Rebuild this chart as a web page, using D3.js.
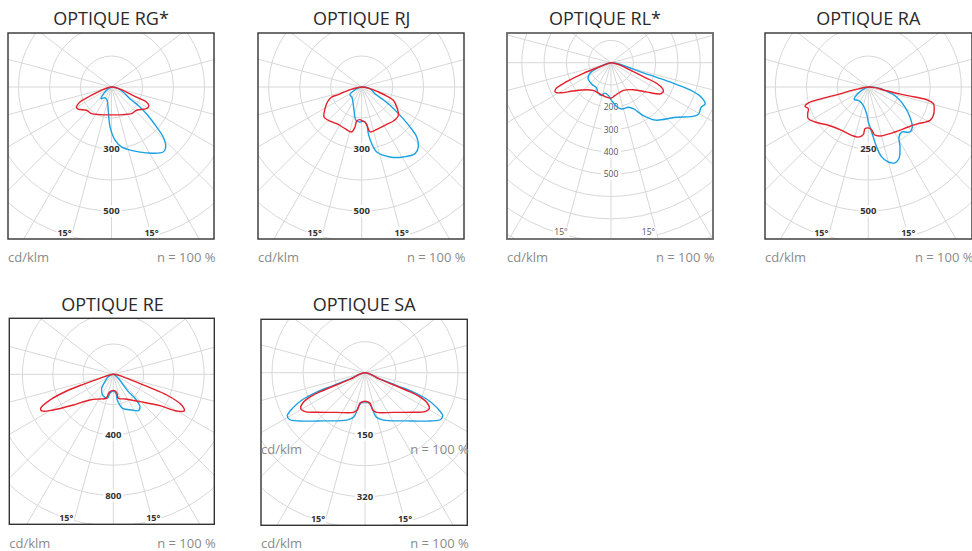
<!DOCTYPE html>
<html><head><meta charset="utf-8">
<script src="https://cdn.jsdelivr.net/npm/d3@7"></script>
<style>body{margin:0;background:#fff} svg{display:block} text{font-family:"Open Sans",sans-serif}</style>
</head><body><svg id="c" width="972" height="551"></svg>
<script>
// ---------- DATA ----------
const titles = ["OPTIQUE RG*", "OPTIQUE RJ", "OPTIQUE RL*", "OPTIQUE RA", "OPTIQUE RE", "OPTIQUE SA"];
const unitLabel = "cd/klm";
const effLabel = "n = 100 %";
const ringSteps = [150, 150, 100, 125, 200, 75]; // cd/klm per grid ring
const tickLabels = [["300","500"],["300","500"],["200","300","400","500"],["250","500"],["400","800"],["150","320"]];
const tickRings = [[2,4],[2,4],[2,3,4,5],[2,4],[2,4],[2,4]];
const angleLabel = "15°";
// [angle from nadir (deg), cd/klm]  red = C0-C180, blue = C90-C270
const rgRed = [[-90,0],[-71,60],[-66.8,123],[-64.7,169],[-60.3,195],[-56.6,194],[-47,165],[-36.9,161],[-22.9,145],[0,135],[22.9,145],[36.9,161],[47,165],[58.2,199],[63.4,202],[66.8,184],[67.6,148],[69,103],[75,50]];
const rgBlue = [[-90,0],[-55,34],[-42,76],[-32,61],[-18,68],[-8,114],[-2,194],[4,259],[9.5,294],[19,327],[28,361],[38.5,402],[42,392],[46,348],[48.5,291],[52.5,213],[55.5,156],[57.5,105],[67,61],[82,24]];
const rjRed = [[-90,0],[-77,58],[-72,119],[-71.6,153],[-66.4,181],[-59.4,206],[-51.5,233],[-45,228],[-34.3,215],[-21.8,217],[-12.5,223],[-9.5,196],[-8.4,166],[-2.9,158],[1.7,165],[5.4,170],[8.2,192],[10.5,221],[21.8,217],[33.8,217],[43,225],[52.3,224],[60.3,195],[67.2,166],[70.2,129],[73.3,84],[78.7,41]];
const rjBlue = [[-90,0],[-68,35],[-56.7,68],[-45,68],[-34,78],[-18.2,119],[-9.6,164],[-3.8,170],[2.8,165],[7.6,182],[8.1,228],[10,278],[13,323],[22,365],[30.8,394],[38.7,413],[43.4,399],[47.7,360],[50.4,303],[53.5,231],[57.1,163],[59.7,112],[63.4,72],[78.7,41]];
const rlRed = [[-90,0],[-70,53],[-68.9,135],[-66.8,219],[-64.7,273],[-62.2,283],[-59,262],[-53.4,213],[-42.4,164],[-32.9,148],[-19.7,148],[-7.3,156],[0,159],[7.1,148],[24.3,136],[39.9,158],[50.9,209],[58,263],[62.1,266],[65.6,228],[66.6,160],[68.9,93],[75.5,42]];
const rlBlue = [[-90,0],[-70,53],[-63.1,107],[-55.3,125],[-43.1,129],[-30.2,130],[-22.9,148],[-16.1,153],[-11.3,139],[-4.7,147],[1,170],[7.5,199],[13.1,213],[21.5,215],[26.1,231],[31.7,280],[37.8,326],[49.1,375],[59.1,454],[63.7,451],[66.4,461],[69.1,433],[70.9,380],[71.7,298],[72.2,218],[72.8,138],[75.7,73],[83.3,26]];
const raRed = [[-90,0],[-78.7,55],[-76.3,125],[-76,194],[-75.1,250],[-73,267],[-70.1,257],[-66.3,267],[-62.2,274],[-56.7,257],[-46.2,223],[-31.6,205],[-19,206],[-11.3,206],[-6,193],[-4.6,169],[0,165],[4.5,173],[7.2,194],[13.4,203],[30.6,211],[45,228],[53.7,250],[61.6,283],[66.4,286],[71.8,280],[75.6,271],[77.5,248],[77.9,192],[77.5,124],[78.7,69],[84.3,27]];
const raBlue = [[-90,0],[-63.4,30],[-53.1,67],[-47.9,76],[-36.9,67],[-15.3,77],[-3.6,108],[0,141],[2.4,161],[5.7,203],[7.9,244],[10.8,287],[14.9,313],[19.4,324],[23.2,314],[27.8,274],[31.5,237],[36.5,226],[42.8,247],[47.7,240],[54.2,207],[61.4,168],[70.6,121],[77.7,76],[85.4,34]];
const reRed = [[-90,0],[-73.3,92],[-71.6,209],[-70.3,327],[-67.9,451],[-64.9,530],[-62.9,531],[-59.3,461],[-52.5,333],[-42.3,229],[-28.4,185],[-17,166],[-12.5,122],[0,106],[10.5,121],[11.8,162],[25.3,180],[44.3,252],[56.1,371],[59.9,483],[62.7,527],[65.8,494],[68.8,378],[70,257],[71.6,139],[78.7,45]];
const reBlue = [[-90,0],[-65,37],[-48.7,73],[-39.8,120],[-27.3,154],[-14,163],[-10,127],[0,110],[8,127],[8.9,171],[15.4,233],[27.2,265],[34.5,291],[39.5,277],[42.1,213],[40.9,151],[43.2,97],[51.3,42]];
const saRed = [[-90,0],[-66.5,39],[-67,73],[-67,117],[-66.3,144],[-64.3,166],[-61,178],[-57,173],[-50.6,151],[-35.5,118],[-16.4,100],[-11.6,92],[-9.3,75],[-4.6,70],[0,69],[4.6,70],[9.3,75],[11.6,92],[16.4,100],[35.5,118],[50.6,151],[57,173],[61,178],[64.3,166],[66.3,144],[67,117],[67,73],[66.5,39]];
const saBlue = [[-90,0],[-67.5,39],[-68,83],[-68.2,126],[-66.8,163],[-64,194],[-61,215],[-58.2,215],[-53.4,196],[-40.8,154],[-21.2,123],[-14,110],[-11.1,84],[-6.4,72],[0,71],[6.4,72],[11.1,84],[14,110],[21.2,123],[40.8,154],[53.4,196],[58.2,215],[61,215],[64,194],[66.8,163],[68.2,126],[68,83],[67.5,39]];
const redSeries = [rgRed, rjRed, rlRed, raRed, reRed, saRed];
const blueSeries = [rgBlue, rjBlue, rlBlue, raBlue, reBlue, saBlue];
const gridAngles = [-127.5,-105,-90,-75,-60,-45,-30,-15,0,15,30,45,60,75,90,105,127.5];

// ---------- LAYOUT ----------
const layout = [
  {x:8,   y:33,    w:206, h:206, cx:111.5, cy:87,    ring:31,   tx:111,   ty:25,  by:262, light:false},
  {x:258, y:33,    w:206, h:206, cx:361.7, cy:87,    ring:31,   tx:361.7, ty:25,  by:262, light:false},
  {x:507, y:33,    w:206, h:206, cx:611,   cy:62.7,  ring:22.3, tx:605,   ty:25,  by:262, light:true},
  {x:765, y:33,    w:207, h:206, cx:868.3, cy:87,    ring:31,   tx:868.3, ty:25,  by:262, light:false},
  {x:9.3, y:318.3, w:205, h:206, cx:113.3, cy:374.3, ring:30.3, tx:112.5, ty:311, by:548, light:false},
  {x:261, y:319.3, w:206.3,h:206,cx:365,   cy:372.7, ring:31,   tx:364.2, ty:311, by:548, light:false}
];
const RED = "#e3202b", BLUE = "#1ba1e2", GRID = "#d8d8d8";

const svg = d3.select("#c");
layout.forEach((L, i) => {
  const g = svg.append("g");
  const clipId = "clip" + i;
  svg.append("defs").append("clipPath").attr("id", clipId)
    .append("rect").attr("x", L.x).attr("y", L.y).attr("width", L.w).attr("height", L.h);
  const r = d3.scaleLinear().domain([0, ringSteps[i]]).range([0, L.ring]);
  const inner = g.append("g").attr("clip-path", `url(#${clipId})`);
  const grid = inner.append("g").attr("transform", `translate(${L.cx},${L.cy})`);
  const nR = Math.ceil(260 / L.ring);
  grid.selectAll("circle").data(d3.range(1, nR + 1)).join("circle")
    .attr("r", k => r(k * ringSteps[i])).attr("fill", "none").attr("stroke", GRID).attr("stroke-width", 1);
  grid.selectAll("line").data(gridAngles).join("line")
    .attr("x1", 0).attr("y1", 0)
    .attr("x2", a => 400 * Math.sin(a * Math.PI / 180))
    .attr("y2", a => 400 * Math.cos(a * Math.PI / 180))
    .attr("stroke", GRID).attr("stroke-width", 1);
  // ring labels
  const tl = grid.selectAll("g.tl").data(tickLabels[i].map((t, j) => ({t, k: tickRings[i][j]}))).join("g")
    .attr("transform", d => `translate(0,${r(d.k * ringSteps[i])})`);
  tl.append("rect").attr("x", -10).attr("y", -6).attr("width", 20).attr("height", 12).attr("fill", "#fff");
  tl.append("text").attr("text-anchor", "middle").attr("dy", "0.35em")
    .attr("font-size", L.light ? 8.5 : 9.5).attr("font-weight", L.light ? 400 : 700)
    .attr("fill", L.light ? "#555" : "#333").text(d => d.t);
  // 15° labels
  const offs = L.light ? [-50, 37.5] : [-47, 40];
  offs.forEach(o => {
    const gg = inner.append("g").attr("transform", `translate(${L.cx + o},${L.y + L.h - 6.5})`);
    gg.append("rect").attr("x", -8).attr("y", -5.5).attr("width", 16).attr("height", 11).attr("fill", "#fff");
    gg.append("text").attr("text-anchor", "middle").attr("dy", "0.35em")
      .attr("font-size", L.light ? 8.5 : 9).attr("font-weight", L.light ? 400 : 700)
      .attr("fill", L.light ? "#555" : "#333").text(angleLabel);
  });
  // curves
  const line = d3.lineRadial()
    .angle(d => Math.PI - d[0] * Math.PI / 180)
    .radius(d => r(d[1]))
    .curve(d3.curveCatmullRomClosed.alpha(0.5));
  const cg = inner.append("g").attr("transform", `translate(${L.cx},${L.cy})`);
  cg.append("path").attr("d", line(blueSeries[i])).attr("fill", "none").attr("stroke", BLUE).attr("stroke-width", 1.4);
  cg.append("path").attr("d", line(redSeries[i])).attr("fill", "none").attr("stroke", RED).attr("stroke-width", 1.4);
  // frame
  g.append("rect").attr("x", L.x).attr("y", L.y).attr("width", L.w).attr("height", L.h)
    .attr("fill", "none").attr("stroke", L.light ? "#666" : "#333").attr("stroke-width", L.light ? 1.8 : 1.4);
  // title
  g.append("text").attr("x", L.tx).attr("y", L.ty).attr("text-anchor", "middle")
    .attr("font-size", 18).attr("fill", "#2a2a2a").text(titles[i]);
  // bottom labels
  const bl = [L.by];
  if (i === 5) bl.push(454);
  bl.forEach(yy => {
    g.append("text").attr("x", L.x).attr("y", yy).attr("font-size", 13).attr("fill", "#8a8a8a").text(unitLabel);
    g.append("text").attr("x", L.x + L.w + 1.5).attr("y", yy).attr("text-anchor", "end").attr("font-size", 13).attr("fill", "#8a8a8a").text(effLabel);
  });
});
</script></body></html>
